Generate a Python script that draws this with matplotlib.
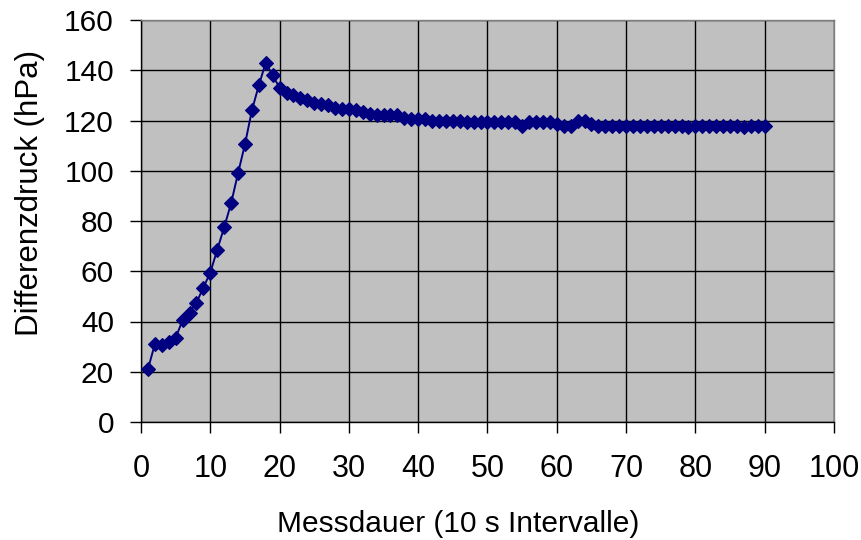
import matplotlib
matplotlib.use("Agg")
import matplotlib.pyplot as plt
from matplotlib import font_manager

# Measurement data: interval number vs. differential pressure (hPa)
intervals = list(range(1, 91))
pressure = [
    21, 31, 30.5, 32, 33.5, 40.5, 43.5, 47.5, 53.5, 59.5,
    68.5, 77.5, 87, 99, 110.5, 124, 134, 143, 138, 133,
    131, 130, 129, 128, 127, 126.5, 126, 125, 124.5, 124.5,
    124, 123.5, 122.5, 122, 122, 122, 122, 121, 120.5, 120.5,
    120.5, 120, 120, 120, 120, 120, 119.5, 119.5, 119.5, 119.5,
    119.5, 119.5, 119.5, 119.5, 118, 119.5, 119.5, 119.5, 119.5, 118.5,
    118, 118, 120, 120, 118.5, 118, 118, 118, 118, 118,
    118, 118, 118, 118, 118, 118, 118, 118, 117.5, 118,
    118, 118, 118, 118, 118, 118, 117.5, 118, 118, 118,
]

x_ticks = list(range(0, 101, 10))
y_ticks = list(range(0, 161, 20))

installed = {f.name for f in font_manager.fontManager.ttflist}
base_font = "Liberation Sans" if "Liberation Sans" in installed else "DejaVu Sans"
plt.rcParams["font.family"] = [base_font, "DejaVu Sans"]

fig = plt.figure(figsize=(8.62, 5.40), dpi=100)
ax = fig.add_axes([141 / 862, 1 - 422 / 540, (834 - 141) / 862, (422 - 20) / 540])
ax.set_facecolor("#C0C0C0")

ax.plot(intervals, pressure, color="#000080", lw=1.4, marker="D",
        ms=6.8, mfc="#000080", mec="#000080", mew=0.8, zorder=3)

ax.set_xlim(0, 100)
ax.set_ylim(0, 160)
ax.set_xticks(x_ticks)
ax.set_yticks(y_ticks)
ax.grid(True, color="black", lw=1.0, zorder=1)
ax.set_axisbelow(True)

for side in ("top", "right"):
    ax.spines[side].set_color("#808080")
    ax.spines[side].set_linewidth(1.0)
for side in ("left", "bottom"):
    ax.spines[side].set_color("black")
    ax.spines[side].set_linewidth(1.0)

ax.tick_params(axis="both", direction="out", length=8, width=1.0, color="black")
ax.tick_params(axis="y", labelsize=21.5, pad=11.5)
ax.tick_params(axis="x", labelsize=22, pad=15)

ax.set_ylabel("Differenzdruck (hPa)", fontsize=22.5, labelpad=14)
ax.set_xlabel("Messdauer (10 s Intervalle)", fontsize=21.5, labelpad=19)
ax.yaxis.label.set_y(0.57)
ax.xaxis.label.set_x(0.457)

fig.savefig("out.png", dpi=100, facecolor="white")
